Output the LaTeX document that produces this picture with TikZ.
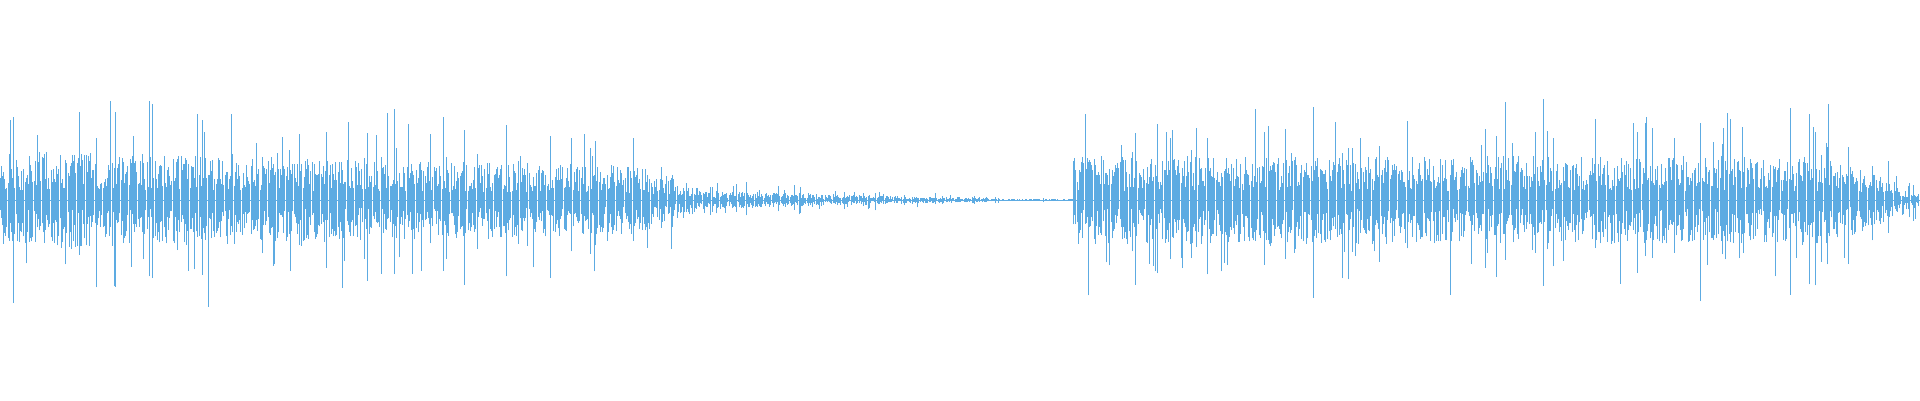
\documentclass[tikz,border=0pt]{standalone}
\definecolor{wave}{RGB}{93,171,226}
\begin{document}
\begin{tikzpicture}[x=1pt,y=1pt,wl/.style={draw=wave,line width=0.6pt}]
\useasboundingbox (0,0) rectangle (1920,400);
\pgfmathsetseed{4242}
\draw[wl,line width=0.8pt] (0,200) -- (1920,200);
\foreach \i in {0,...,1700}{
  \pgfmathsetmacro\x{\i*1.13}
  \pgfmathsetmacro\e{\x<640 ? 50-\x*0.025 : (\x<710 ? 34-(\x-640)*0.36 : (\x<1000 ? 9-(\x-710)*0.026 : (\x<1073 ? 1 : (\x<1830 ? 44 : 44-(\x-1830)*0.4))))}
  \pgfmathsetmacro\s{rnd<0.14 ? 1.5+1.0*rnd : 1}
  \pgfmathsetmacro\a{\e*\s*(0.2+0.8*rnd)}
  \pgfmathsetmacro\b{\e*\s*(0.2+0.8*rnd)}
  \draw[wl] (\x,200-\b) -- (\x,200+\a);
}
\end{tikzpicture}
\end{document}
